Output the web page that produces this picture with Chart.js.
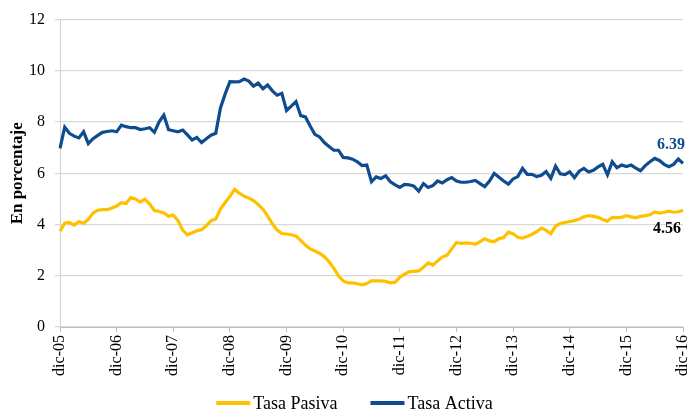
<!DOCTYPE html>
<html><head><meta charset="utf-8">
<script src="https://cdn.jsdelivr.net/npm/chart.js@4/dist/chart.umd.min.js"></script>
<style>html,body{margin:0;padding:0;background:#fff}#wrap{width:687px;height:412px}</style>
</head><body><div id="wrap"><canvas id="c" width="687" height="412"></canvas></div>
<script>
const yearTicks = ['dic-05','dic-06','dic-07','dic-08','dic-09','dic-10','dic-11','dic-12','dic-13','dic-14','dic-15','dic-16'];
const tasaActiva = [6.97,7.8,7.56,7.45,7.38,7.62,7.16,7.35,7.48,7.6,7.63,7.66,
 7.62,7.88,7.82,7.78,7.78,7.71,7.74,7.78,7.6,8.01,8.27,7.7,
 7.66,7.62,7.69,7.5,7.3,7.4,7.2,7.35,7.49,7.56,8.55,9.1,
 9.58,9.57,9.58,9.68,9.6,9.4,9.52,9.3,9.45,9.22,9.05,9.12,
 8.45,8.62,8.8,8.25,8.2,7.85,7.52,7.42,7.2,7.05,6.9,6.9,
 6.62,6.6,6.55,6.45,6.3,6.32,5.67,5.86,5.8,5.9,5.67,5.55,
 5.45,5.57,5.55,5.5,5.3,5.6,5.45,5.52,5.7,5.62,5.75,5.83,
 5.7,5.65,5.65,5.68,5.72,5.6,5.48,5.7,6.0,5.85,5.7,5.58,
 5.78,5.87,6.19,5.96,5.96,5.87,5.92,6.07,5.8,6.28,5.98,5.95,
 6.06,5.83,6.08,6.19,6.05,6.12,6.25,6.35,5.94,6.45,6.22,6.32,
 6.26,6.32,6.2,6.1,6.3,6.45,6.58,6.5,6.35,6.26,6.35,6.56,6.39];
const tasaPasiva = [3.74,4.05,4.08,3.98,4.12,4.05,4.2,4.45,4.56,4.58,4.58,4.65,
 4.72,4.85,4.82,5.05,5.0,4.88,4.99,4.8,4.55,4.51,4.45,4.32,
 4.37,4.15,3.78,3.6,3.68,3.76,3.8,3.95,4.15,4.22,4.6,4.86,
 5.1,5.37,5.22,5.11,5.03,4.93,4.78,4.6,4.33,4.03,3.78,3.65,
 3.63,3.6,3.55,3.38,3.2,3.05,2.97,2.87,2.75,2.55,2.3,2.0,
 1.8,1.72,1.72,1.69,1.65,1.7,1.8,1.8,1.8,1.78,1.72,1.75,
 1.94,2.06,2.16,2.17,2.19,2.33,2.5,2.42,2.58,2.73,2.8,3.05,
 3.3,3.26,3.28,3.27,3.23,3.33,3.44,3.36,3.33,3.45,3.49,3.7,
 3.64,3.5,3.47,3.53,3.62,3.72,3.86,3.77,3.64,3.94,4.04,4.08,
 4.12,4.15,4.22,4.3,4.35,4.32,4.28,4.2,4.13,4.28,4.27,4.28,
 4.35,4.3,4.26,4.32,4.35,4.38,4.49,4.45,4.48,4.52,4.48,4.5,4.56];
const yTicks = [0,2,4,6,8,10,12];
const endLabels = ['6.39','4.56'];
const seriesNames = ['Tasa Pasiva','Tasa Activa'];

const labels = tasaActiva.map((v,i)=> i%12===0 ? yearTicks[i/12] : '');
const FONT = "'Liberation Serif', 'DejaVu Serif', serif";
const BLUE = '#0f4c8f', YELLOW = '#ffc000';

const endLabelPlugin = {
  id:'endLabels',
  afterDatasetsDraw(chart){
    const ctx = chart.ctx;
    const xs = chart.scales.x, ys = chart.scales.y;
    const last = tasaActiva.length-1;
    ctx.save();
    ctx.font = "bold 16px " + FONT;
    ctx.textAlign = 'right';
    ctx.textBaseline = 'middle';
    ctx.fillStyle = BLUE;
    ctx.fillText(endLabels[0], xs.getPixelForValue(last)+2, ys.getPixelForValue(tasaActiva[last])-18);
    ctx.fillStyle = '#000';
    ctx.fillText(endLabels[1], xs.getPixelForValue(last)-2, ys.getPixelForValue(tasaPasiva[last])+19);
    ctx.restore();
  }
};

const legendPlugin = {
  id:'customLegend',
  afterDraw(chart){
    const ctx = chart.ctx;
    ctx.save();
    ctx.font = "18px " + FONT;
    ctx.textBaseline = 'middle';
    const colors = [YELLOW, BLUE];
    const lineLen = 34, gap = 3, spacing = 33;
    const widths = seriesNames.map(t=>ctx.measureText(t).width);
    const total = widths.reduce((a,w)=>a+lineLen+gap+w,0) + spacing;
    let x = chart.width/2 + 11 - total/2;
    const y = 403;
    seriesNames.forEach((t,i)=>{
      ctx.strokeStyle = colors[i]; ctx.lineWidth = 4; ctx.lineCap='butt';
      ctx.beginPath(); ctx.moveTo(x,y); ctx.lineTo(x+lineLen,y); ctx.stroke();
      ctx.fillStyle = '#000'; ctx.textAlign='left';
      ctx.fillText(t, x+lineLen+gap, y+1);
      x += lineLen+gap+widths[i]+spacing;
    });
    ctx.restore();
  }
};

new Chart(document.getElementById('c'), {
  type:'line',
  data:{ labels, datasets:[
    {label:seriesNames[0], data:tasaPasiva, borderColor:YELLOW, backgroundColor:YELLOW, borderWidth:3.2, pointRadius:0, tension:0, fill:false},
    {label:seriesNames[1], data:tasaActiva, borderColor:BLUE, backgroundColor:BLUE, borderWidth:3.2, pointRadius:0, tension:0, fill:false}
  ]},
  options:{
    responsive:false, animation:false,
    layout:{padding:{top:6,right:4,left:0,bottom:25}},
    plugins:{ legend:{display:false}, tooltip:{enabled:false} },
    scales:{
      x:{
        grid:{display:true, drawOnChartArea:false, color:'#bfbfbf', tickLength:5},
        border:{color:'#bfbfbf'},
        afterBuildTicks(s){ s.ticks = s.ticks.filter(t=>t.value%12===0); },
        ticks:{autoSkip:false, maxRotation:90, minRotation:90, padding:3, color:'#000', font:{family:FONT,size:16},
          callback(v){ return labels[v]; }},
        afterFit(s){ s.height = 60; s.paddingLeft = 0; s.paddingRight = 0; }
      },
      y:{
        min:0, max:12,
        afterBuildTicks(s){ s.ticks = yTicks.map(v=>({value:v})); },
        grid:{color:'#d9d9d9', drawTicks:true, tickLength:5, lineWidth:1.3},
        border:{color:'#d0d0d0'},
        ticks:{color:'#000', font:{family:FONT,size:16}, padding:10},
        title:{display:true, text:'En porcentaje', color:'#000', padding:{top:7,bottom:0}, font:{family:FONT,size:17,weight:'bold'}},
        afterFit(s){ s.width = 60; }
      }
    }
  },
  plugins:[endLabelPlugin, legendPlugin]
});
</script></body></html>
